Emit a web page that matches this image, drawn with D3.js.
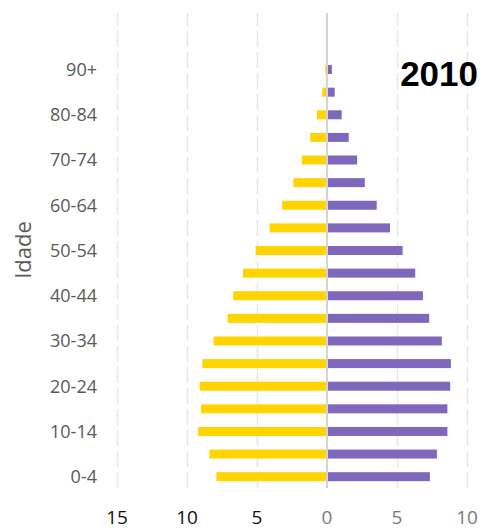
<!DOCTYPE html>
<html>
<head>
<meta charset="utf-8">
<script src="https://cdn.jsdelivr.net/npm/d3@7"></script>
<style>
  html, body { margin: 0; padding: 0; background: #fff; }
  svg { display: block; }
</style>
</head>
<body>
<svg id="chart" width="485" height="530"></svg>
<script>
// Age groups, bottom to top
const ageGroups = ["0-4","5-9","10-14","15-19","20-24","25-29","30-34","35-39","40-44",
  "45-49","50-54","55-59","60-64","65-69","70-74","75-79","80-84","85-89","90+"];
// Share of population (%) per age group, left side (yellow)
const leftValues = [7.9, 8.4, 9.2, 9.0, 9.1, 8.9, 8.1, 7.1, 6.7,
  6.0, 5.1, 4.1, 3.2, 2.4, 1.8, 1.2, 0.72, 0.33, 0.13];
// Share of population (%) per age group, right side (purple)
const rightValues = [7.35, 7.85, 8.6, 8.6, 8.8, 8.85, 8.2, 7.3, 6.85,
  6.3, 5.4, 4.5, 3.55, 2.7, 2.15, 1.55, 1.05, 0.55, 0.35];
// Axis ticks
const xTicks = [-15, -10, -5, 0, 5, 10];
const yearLabel = "2010";
const yTitle = "Idade";

const svg = d3.select("#chart");

const x = d3.scaleLinear().domain([-15, 10]).range([117, 467]);
// two empty slots are kept above the oldest group
const y = d3.scaleLinear().domain([-0.5, ageGroups.length + 1.5]).range([488, 13]);
const barH = 9;

// vertical dashed gridlines
const grid = d3.axisBottom(x).tickValues(xTicks.filter(t => t !== 0))
  .tickSize(-(y.range()[0] - y.range()[1])).tickFormat("");
svg.append("g")
  .attr("transform", `translate(0,${y.range()[0]})`)
  .call(grid)
  .call(g => g.select(".domain").remove())
  .call(g => g.selectAll("line")
    .attr("stroke", "#e6e6e6").attr("stroke-width", 1.5)
    .attr("stroke-dasharray", "16,5"));

// bars
const rows = ageGroups.map((a, i) => ({ age: a, i, left: leftValues[i], right: rightValues[i] }));

svg.append("g").selectAll("rect")
  .data(rows).join("rect")
  .attr("x", d => x(-d.left))
  .attr("width", d => x(0) - x(-d.left))
  .attr("y", d => y(d.i) - barH / 2)
  .attr("height", barH)
  .attr("fill", "#ffd400");

svg.append("g").selectAll("rect")
  .data(rows).join("rect")
  .attr("x", x(0))
  .attr("width", d => x(d.right) - x(0))
  .attr("y", d => y(d.i) - barH / 2)
  .attr("height", barH)
  .attr("fill", "#7f68bb");

// zero line
svg.append("line")
  .attr("x1", x(0)).attr("x2", x(0))
  .attr("y1", y.range()[1]).attr("y2", y.range()[0])
  .attr("stroke", "#d4d4d4").attr("stroke-width", 2);

// x tick labels (absolute values)
svg.append("g").selectAll("text")
  .data(xTicks).join("text")
  .attr("x", d => x(d))
  .attr("y", 524)
  .attr("text-anchor", "middle")
  .attr("font-family", "'Open Sans', sans-serif")
  .attr("font-size", 19)
  .attr("fill", d => d < 0 ? "#111" : "#7a7a7a")
  .text(d => Math.abs(d));

// y labels, every other group
svg.append("g").selectAll("text")
  .data(rows.filter(d => d.i % 2 === 0)).join("text")
  .attr("x", 97)
  .attr("y", d => y(d.i))
  .attr("dy", "0.35em")
  .attr("text-anchor", "end")
  .attr("font-family", "'Open Sans', sans-serif")
  .attr("font-size", 18)
  .attr("fill", "#595959")
  .text(d => d.age);

// y axis title
svg.append("text")
  .attr("transform", "translate(31,250) rotate(-90)")
  .attr("text-anchor", "middle")
  .attr("font-family", "'Open Sans', sans-serif")
  .attr("font-size", 22)
  .attr("fill", "#595959")
  .text(yTitle);

// year
svg.append("text")
  .attr("x", 478).attr("y", 86)
  .attr("text-anchor", "end")
  .attr("font-family", "'Liberation Sans', Arial, sans-serif")
  .attr("font-weight", "bold")
  .attr("font-size", 35)
  .attr("fill", "#000")
  .text(yearLabel);
</script>
</body>
</html>
